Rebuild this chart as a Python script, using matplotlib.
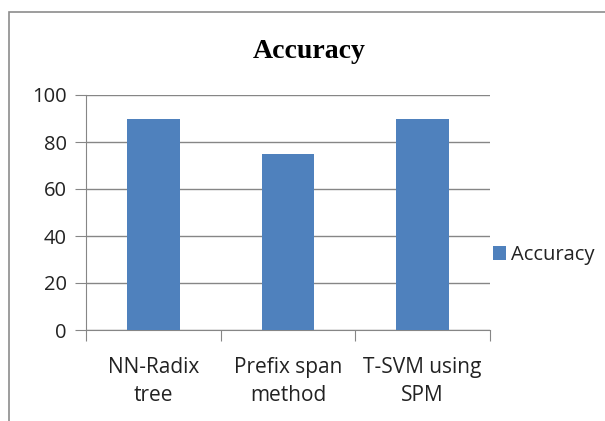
import numpy as np
import matplotlib.pyplot as plt
from matplotlib.patches import Rectangle

categories = ["NN-Radix\ntree", "Prefix span\nmethod", "T-SVM using\nSPM"]
accuracy = [90, 75, 90]
yticks = [0, 20, 40, 60, 80, 100]

W, H = 605, 421
fig = plt.figure(figsize=(W / 100, H / 100), dpi=100)

# outer chart border (only left and top visible in the reference)
fig.patches.append(Rectangle((8.5 / W, -0.1), 1.2, (H - 12) / H + 0.1,
                             transform=fig.transFigure, fill=False,
                             edgecolor="#8c8c8c", linewidth=1.2))

ax = fig.add_axes([86 / W, 1 - 330 / H, (490 - 86) / W, (330 - 95) / H])
x = np.arange(len(categories))
ax.bar(x, accuracy, width=0.39, color="#4F81BD", label="Accuracy", zorder=3)

ax.set_xlim(-0.5, len(categories) - 0.5)
ax.set_ylim(0, 100)
ax.set_yticks(yticks)
ax.yaxis.grid(True, color="#868686", linewidth=1.0, zorder=0)
ax.tick_params(axis="y", length=8, color="#868686", labelsize=14.5, pad=6)
ax.set_xticks(np.arange(-0.5, len(categories), 1.0))
ax.set_xticklabels([])
ax.tick_params(axis="x", length=8, color="#868686")
for i, c in enumerate(categories):
    ax.text(i, -11.5, c, ha="center", va="top", fontsize=15,
            linespacing=1.45, family="Open Sans", color="#222222")
for lab in ax.get_yticklabels():
    lab.set_family("Open Sans")
    lab.set_color("#222222")

for s in ["top", "right"]:
    ax.spines[s].set_visible(False)
for s in ["left", "bottom"]:
    ax.spines[s].set_color("#868686")

fig.text(309 / W, 1 - 52 / H, "Accuracy", ha="center", va="center",
         fontsize=20, fontweight="bold", family="Liberation Serif")

ax.legend(loc="center left", bbox_to_anchor=(475 / W, 1 - 255 / H),
          bbox_transform=fig.transFigure, frameon=False,
          prop={"family": "Open Sans", "size": 14.5},
          handlelength=0.65, handleheight=0.65, handletextpad=0.25,
          labelcolor="#222222")

fig.savefig("out.png", dpi=100)
